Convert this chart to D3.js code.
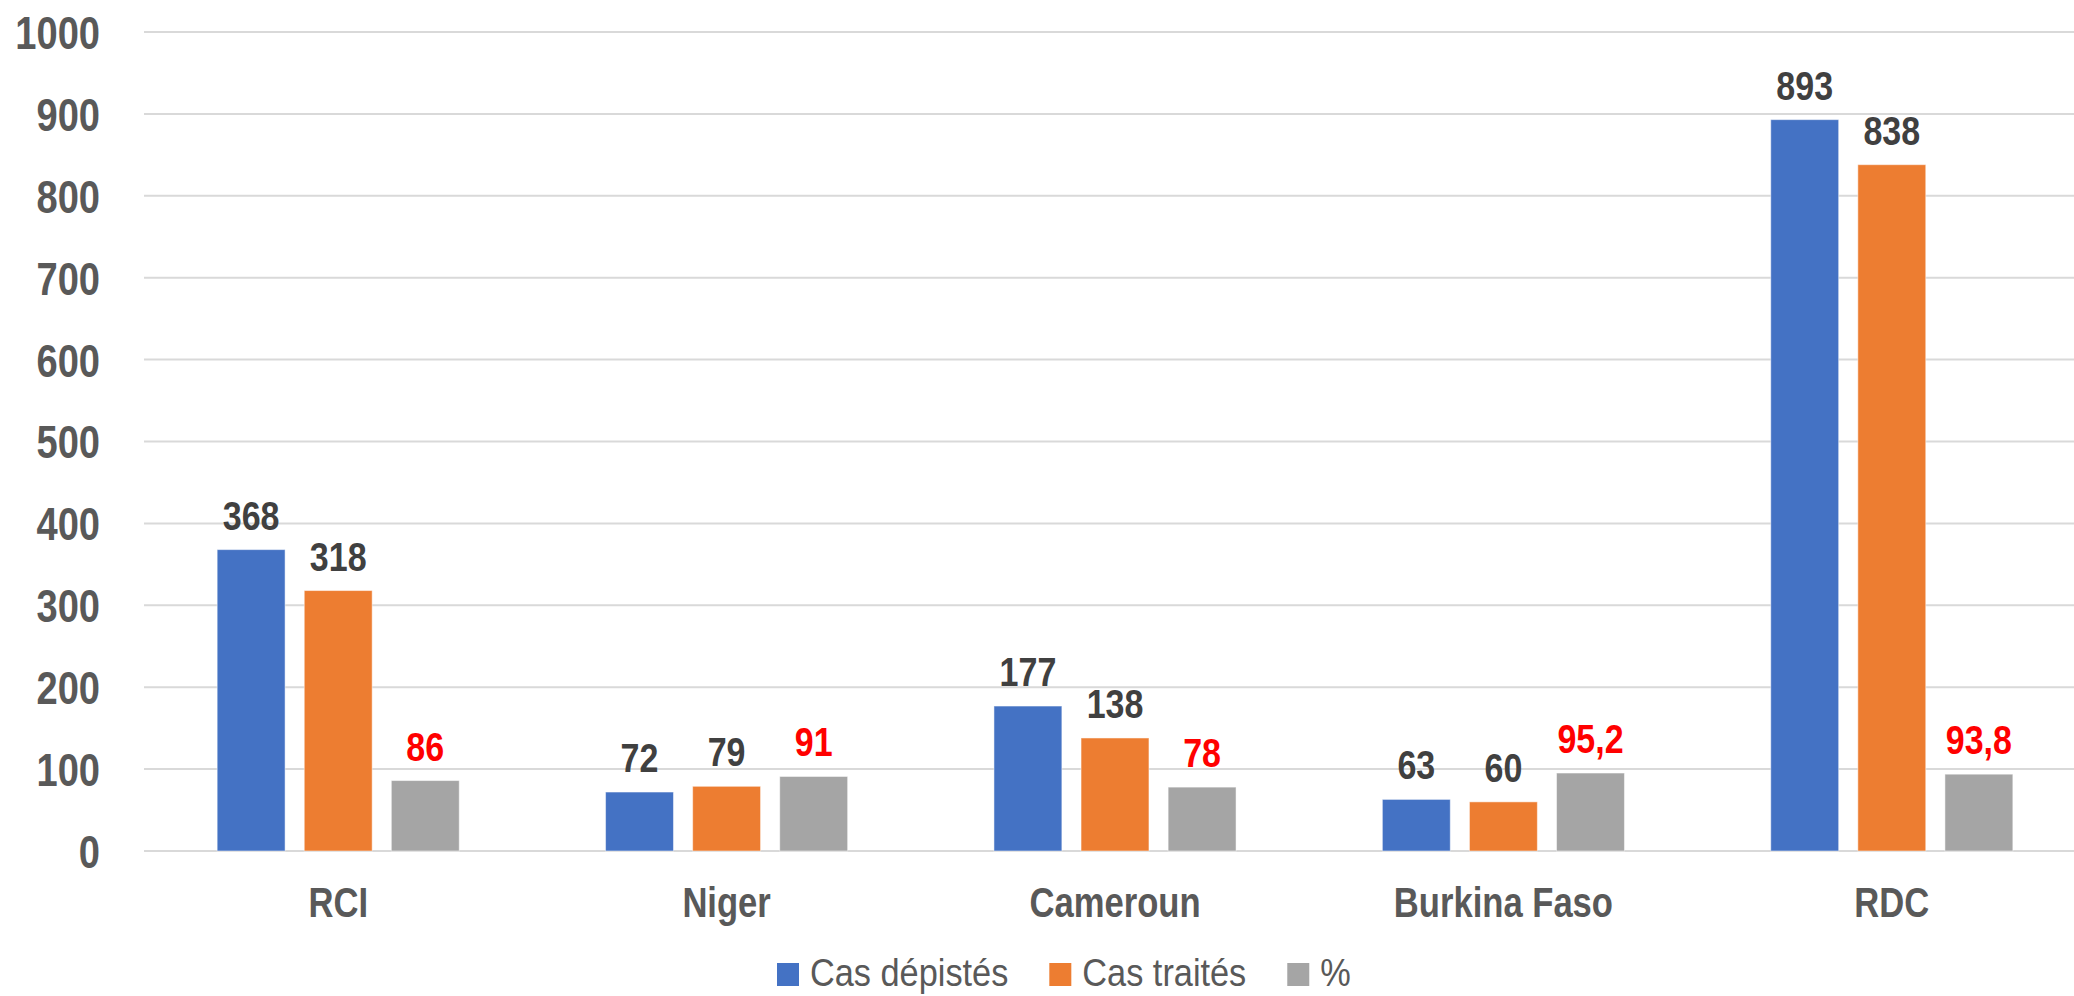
<!DOCTYPE html>
<html>
<head>
<meta charset="utf-8">
<script src="https://cdn.jsdelivr.net/npm/d3@7"></script>
<style>
  html, body { margin: 0; padding: 0; background: #fff; }
  svg { display: block; font-family: "Liberation Sans", Arial, sans-serif; }
</style>
</head>
<body>
<svg id="chart" width="2074" height="996"></svg>
<script>
// Countries and the three series drawn for each
const categories = ["RCI", "Niger", "Cameroun", "Burkina Faso", "RDC"];
const casDepistes = [368, 72, 177, 63, 893];
const casTraites = [318, 79, 138, 60, 838];
const pourcentage = [86, 91, 78, 95.2, 93.8];
const seriesNames = ["Cas dépistés", "Cas traités", "%"];
const seriesColors = ["#4472C4", "#ED7D31", "#A5A5A5"];
const yTicks = [0, 100, 200, 300, 400, 500, 600, 700, 800, 900, 1000];

const series = [casDepistes, casTraites, pourcentage];
const fmt = v => String(v).replace(".", ",");

// horizontal squeeze that gives the sans face a narrow look
const NARROW = { tick: 0.81, value: 0.84, cat: 0.805, legend: 0.88 };

const svg = d3.select("#chart");
const plotLeft = 144, plotRight = 2086, plotTop = 32, plotBottom = 851;

const x = d3.scaleBand().domain(categories).range([plotLeft, plotRight]).paddingInner(0).paddingOuter(0);
const xInner = d3.scaleBand().domain(d3.range(3)).range([0, x.bandwidth()])
  .paddingInner(0.22).paddingOuter(0.84);
const y = d3.scaleLinear().domain([0, 1000]).range([plotBottom, plotTop]);

// horizontal gridlines
svg.append("g").selectAll("line").data(yTicks).join("line")
  .attr("x1", plotLeft).attr("x2", 2074)
  .attr("y1", d => y(d)).attr("y2", d => y(d))
  .attr("stroke", "#d9d9d9").attr("stroke-width", 2);

// y axis labels
const yAxis = d3.axisLeft(y).tickValues(yTicks).tickFormat(d3.format("d")).tickSize(0).tickPadding(0);
const gy = svg.append("g").attr("transform", "translate(100,0)").call(yAxis);
gy.select(".domain").remove();
gy.attr("font-family", null).attr("font-size", null);
gy.selectAll("text")
  .attr("fill", "#595959").attr("font-size", 47).attr("font-weight", "bold")
  .attr("x", 0).attr("dy", "0.35em")
  .attr("transform", `scale(${NARROW.tick},1)`);

// bars with value labels
const groups = svg.append("g").selectAll("g").data(categories).join("g")
  .attr("transform", d => `translate(${x(d)},0)`);

groups.each(function(cat, ci) {
  const g = d3.select(this);
  series.forEach((vals, si) => {
    const v = vals[ci];
    g.append("rect")
      .attr("x", xInner(si)).attr("width", xInner.bandwidth())
      .attr("y", y(v)).attr("height", y(0) - y(v))
      .attr("fill", seriesColors[si])
      .attr("stroke", "#ffffff").attr("stroke-opacity", 0.5).attr("stroke-width", 1);
    g.append("g")
      .attr("transform", `translate(${xInner(si) + xInner.bandwidth() / 2},${y(v) - 20})`)
      .append("text")
      .attr("text-anchor", "middle")
      .attr("transform", `scale(${NARROW.value},1)`)
      .attr("font-size", 40.5).attr("font-weight", "bold")
      .attr("fill", si === 2 ? "#FF0000" : "#404040")
      .text(fmt(v));
  });
});

// category axis labels
const xAxis = d3.axisBottom(x).tickSize(0).tickPadding(0);
const gx = svg.append("g").attr("transform", `translate(0,${plotBottom})`).call(xAxis);
gx.select(".domain").remove();
gx.attr("font-family", null).attr("font-size", null);
gx.selectAll(".tick").each(function() {
  const t = d3.select(this);
  const tr = t.attr("transform");
  t.attr("transform", tr + " translate(0,66)");
});
gx.selectAll("text")
  .attr("fill", "#595959").attr("font-size", 43).attr("font-weight", "bold")
  .attr("dy", null).attr("y", 0)
  .attr("transform", `scale(${NARROW.cat},1)`);

// legend
const legend = svg.append("g").attr("transform", "translate(777,963)");
let lx = 0;
seriesNames.forEach((name, i) => {
  const item = legend.append("g").attr("transform", `translate(${lx},0)`);
  item.append("rect").attr("width", 22).attr("height", 23).attr("fill", seriesColors[i]);
  const txt = item.append("g").attr("transform", "translate(33,23)")
    .append("text")
    .attr("transform", `scale(${NARROW.legend},1)`)
    .attr("font-size", 39).attr("fill", "#595959").text(name);
  const w = txt.node().getComputedTextLength() * NARROW.legend;
  lx += 33 + w + 41;
});
</script>
</body>
</html>
